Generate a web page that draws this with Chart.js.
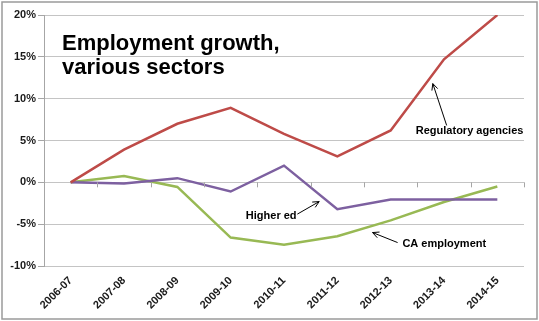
<!DOCTYPE html>
<html>
<head>
<meta charset="utf-8">
<script src="https://cdn.jsdelivr.net/npm/chart.js@4"></script>
<style>
  html, body { margin: 0; padding: 0; background: #fff; }
  #wrap { width: 539px; height: 321px; }
</style>
</head>
<body>
<div id="wrap"><canvas id="growth-chart" width="539" height="321"></canvas></div>
<script>
// fiscal years on the x axis
var years = ["2006-07", "2007-08", "2008-09", "2009-10", "2010-11", "2011-12", "2012-13", "2013-14", "2014-15"];

// growth since 2006-07, in percent
var regulatory = [0, 3.9, 7.0, 8.9, 5.8, 3.1, 6.2, 14.7, 20.0];
var higherEd   = [0, -0.15, 0.5, -1.1, 2.0, -3.2, -2.05, -2.05, -2.05];
var caEmploy   = [0, 0.75, -0.55, -6.6, -7.45, -6.45, -4.55, -2.35, -0.5];

var yTicks = [-10, -5, 0, 5, 10, 15, 20];

// annotation: label text + arrow, in data units (x = category index, y = percent)
var notes = [
    { text: "Regulatory agencies", tx: 7.48, ty: 6.1, align: "center", from: [7.05, 6.8], to: [6.79, 11.8] },
    { text: "Higher ed", tx: 3.76, ty: -4.05, align: "center", from: [4.25, -3.8], to: [4.66, -2.3] },
    { text: "CA employment", tx: 6.22, ty: -7.4, align: "left", from: [6.13, -7.2], to: [5.66, -6.0] }
];

var extras = {
    id: 'extras',
    beforeDraw: function (chart) {
        var ctx = chart.ctx;
        ctx.save();
        ctx.fillStyle = '#fff';
        ctx.fillRect(0, 0, chart.width, chart.height);
        ctx.restore();
    },
    afterDraw: function (chart) {
        var ctx = chart.ctx;
        var xs = chart.scales.x, ys = chart.scales.y;
        var area = chart.chartArea;
        ctx.save();

        // small tick marks on the zero line, between categories
        var y0 = ys.getPixelForValue(0);
        ctx.strokeStyle = '#a6a6a6';
        ctx.lineWidth = 1;
        for (var i = 0; i <= years.length; i++) {
            var px = Math.round(xs.getPixelForValue(i - 0.5)) + 0.5;
            ctx.beginPath();
            ctx.moveTo(px, y0);
            ctx.lineTo(px, y0 + 5);
            ctx.stroke();
        }

        // title
        ctx.fillStyle = '#000';
        ctx.font = 'bold 22px Arial, "Liberation Sans", sans-serif';
        ctx.textAlign = 'left';
        ctx.textBaseline = 'alphabetic';
        ctx.fillText('Employment growth,', area.left + 18, 50);
        ctx.fillText('various sectors', area.left + 18, 74);

        // labels and arrows
        ctx.font = 'bold 11px Arial, "Liberation Sans", sans-serif';
        ctx.textBaseline = 'middle';
        notes.forEach(function (n) {
            ctx.textAlign = n.align;
            ctx.fillText(n.text, xs.getPixelForValue(n.tx), ys.getPixelForValue(n.ty));
            var x1 = xs.getPixelForValue(n.from[0]), y1 = ys.getPixelForValue(n.from[1]);
            var x2 = xs.getPixelForValue(n.to[0]), y2 = ys.getPixelForValue(n.to[1]);
            ctx.strokeStyle = '#000';
            ctx.lineWidth = 1;
            ctx.beginPath();
            ctx.moveTo(x1, y1);
            ctx.lineTo(x2, y2);
            var a = Math.atan2(y2 - y1, x2 - x1);
            ctx.moveTo(x2 - 7 * Math.cos(a - 0.45), y2 - 7 * Math.sin(a - 0.45));
            ctx.lineTo(x2, y2);
            ctx.lineTo(x2 - 7 * Math.cos(a + 0.45), y2 - 7 * Math.sin(a + 0.45));
            ctx.stroke();
        });

        // outer frame
        ctx.strokeStyle = '#9a9a9a';
        ctx.lineWidth = 1.5;
        ctx.strokeRect(2, 2, chart.width - 4, chart.height - 4);
        ctx.restore();
    }
};

new Chart(document.getElementById("growth-chart"), {
    type: 'line',
    data: {
        labels: years,
        datasets: [
            { label: "Regulatory agencies", data: regulatory, borderColor: "#be4b48" },
            { label: "Higher ed", data: higherEd, borderColor: "#7d60a0" },
            { label: "CA employment", data: caEmploy, borderColor: "#98b954" }
        ]
    },
    options: {
        responsive: false,
        animation: false,
        layout: { padding: { top: 15, right: 15, left: 0, bottom: 0 } },
        elements: {
            line: { borderWidth: 2.5, tension: 0 },
            point: { radius: 0 }
        },
        plugins: {
            legend: { display: false },
            tooltip: { enabled: false }
        },
        scales: {
            x: {
                offset: true,
                grid: { display: false, drawTicks: false },
                border: { display: false },
                ticks: {
                    minRotation: 45, maxRotation: 45, padding: 8,
                    color: '#1a1a1a',
                    font: { family: 'Arial, "Liberation Sans", sans-serif', size: 11, weight: 'bold' }
                },
                afterFit: function (s) { s.height = 55; }
            },
            y: {
                min: -10, max: 20,
                afterBuildTicks: function (s) { s.ticks = yTicks.map(function (v) { return { value: v }; }); },
                grid: { color: '#c4c4c4', tickColor: '#a6a6a6', tickLength: 6, lineWidth: 1 },
                border: { display: true, color: '#a6a6a6' },
                ticks: {
                    padding: 2,
                    color: '#1a1a1a',
                    font: { family: 'Arial, "Liberation Sans", sans-serif', size: 11, weight: 'bold' },
                    callback: function (v) { return v + '%'; }
                },
                afterFit: function (s) { s.width = 44; }
            }
        }
    },
    plugins: [extras]
});
</script>
</body>
</html>
